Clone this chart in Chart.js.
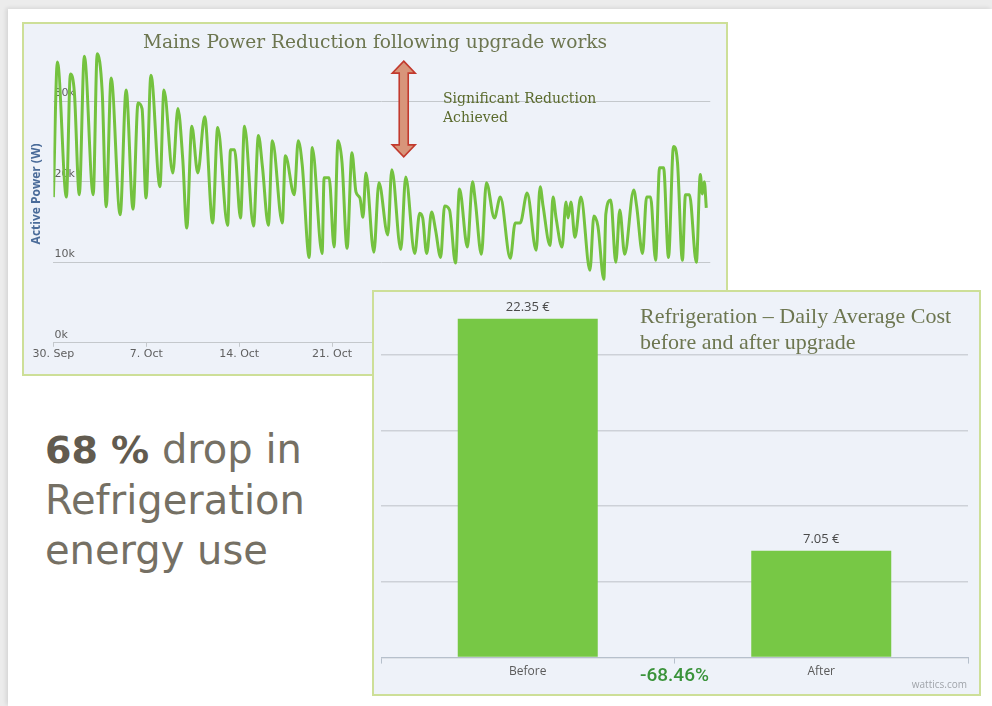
<!DOCTYPE html>
<html>
<head>
<meta charset="utf-8">
<script src="https://cdn.jsdelivr.net/npm/chart.js@4.4.1/dist/chart.umd.min.js"></script>
<style>
html, body { margin: 0; padding: 0; }
body { width: 992px; height: 706px; position: relative; overflow: hidden; background: #ececec; font-family: "Open Sans", sans-serif; }
.card { position: absolute; left: 8px; top: 9px; width: 984px; height: 697px; background: #fff; box-shadow: -2px -1px 4px rgba(0,0,0,0.10); }
.panel { position: absolute; background: #eef2f9; border: 2px solid #cddf98; box-sizing: border-box; }
#linePanel { left: 22px; top: 22px; width: 706px; height: 354px; }
#barPanel { left: 372px; top: 290px; width: 609px; height: 406px; }
canvas { position: absolute; left: 0; top: 0; }
.serif { position: absolute; white-space: nowrap; color: #6d7650; }
#lineTitle { left: 0; width: 702px; top: 7px; text-align: center; font: 18.6px "DejaVu Serif", serif; }
#note { left: 419px; top: 65px; font: 14px/19px "DejaVu Serif", serif; color: #5a6a2c; }
#barTitle { left: 266px; top: 11px; font: 22px/26px "Liberation Serif", serif; }
#drop { position: absolute; left: 266px; top: 371px; font: 500 19px Roboto, sans-serif; color: #3a933a; }
#brand { position: absolute; right: 12px; top: 385px; font: 10px "Open Sans", sans-serif; color: #a0a4aa; }
#claim { position: absolute; left: 45px; top: 424px; font: 40px/50px "DejaVu Sans", sans-serif; color: #757064; }
#claim b { color: #625b4f; font-size: 38px; }
</style>
</head>
<body>
<div class="card"></div>

<div id="claim"><b>68 %</b> drop in<br>Refrigeration<br>energy use</div>

<div class="panel" id="linePanel">
  <canvas id="lineChart" width="702" height="350"></canvas>
  <div class="serif" id="lineTitle">Mains Power Reduction following upgrade works</div>
  <div class="serif" id="note">Significant Reduction<br>Achieved</div>
</div>

<div class="panel" id="barPanel">
  <canvas id="barChart" width="605" height="402"></canvas>
  <div class="serif" id="barTitle">Refrigeration – Daily Average Cost<br>before and after upgrade</div>
  <div id="drop">-68.46%</div>
  <div id="brand">wattics.com</div>
</div>

<script>
// days since 30 Sep
const days = [
  0.00, 0.30, 0.98, 1.28, 1.58, 1.95, 2.33, 3.00, 3.30, 3.68,
  3.98, 4.35, 5.03, 5.48, 6.00, 6.38, 6.68, 6.98, 7.35, 8.03,
  8.33, 9.00, 9.38, 9.75, 10.05, 10.43, 10.88, 11.40, 12.00, 12.38,
  13.13, 13.35, 13.65, 14.10, 14.40, 15.08, 15.45, 15.75, 16.20, 16.50,
  17.25, 17.48, 18.15, 18.45, 18.75, 19.28, 19.50, 20.25, 20.40, 20.78,
  21.15, 21.45, 21.75, 22.13, 22.50, 22.80, 23.10, 23.33, 23.55, 24.15,
  24.53, 25.20, 25.50, 26.18, 26.55, 27.23, 27.60, 27.83, 28.13, 28.50,
  28.80, 29.18, 29.48, 29.85, 30.30, 30.60, 31.20, 31.58, 31.80, 32.25,
  32.63, 33.23, 33.68, 34.43, 34.80, 35.18, 35.70, 36.38, 36.68, 36.90,
  37.43, 37.65, 37.88, 38.33, 38.63, 38.78, 39.00, 39.30, 39.75, 40.43,
  40.73, 41.03, 41.48, 41.63, 42.00, 42.38, 42.68, 43.05, 43.73, 43.95,
  44.40, 44.70, 45.00, 45.38, 45.68, 45.98, 46.35, 46.73, 47.03, 47.40,
  47.63, 47.93, 48.45, 48.75, 48.90, 49.05, 49.20
];
// active power (W)
const activePower = [
  18100, 34900, 18100, 33400, 31100, 18400, 35600, 18400, 35900, 31100,
  16900, 32900, 15900, 31400, 16600, 29800, 29100, 18000, 33250, 19400,
  31400, 21100, 29100, 22750, 14250, 26900, 21100, 28100, 14900, 26750,
  14600, 24000, 24000, 15500, 26900, 14500, 25750, 21900, 14600, 25100,
  14900, 23250, 18400, 25100, 22100, 10600, 24250, 11100, 20500, 20500,
  11900, 25100, 22400, 11750, 23600, 18750, 18000, 15600, 21100, 11250,
  19900, 13400, 21500, 11600, 20600, 11100, 16100, 15500, 11100, 16250,
  14000, 10600, 17000, 16500, 9900, 19100, 11900, 20000, 17500, 11000,
  19900, 15500, 18100, 10500, 14900, 14900, 18600, 11500, 19400, 17000,
  12100, 18100, 15500, 11900, 17500, 15500, 17500, 13100, 18100, 9000,
  15750, 14500, 7900, 16000, 17750, 10000, 16500, 11000, 19000, 17000,
  11100, 18100, 18100, 10250, 21750, 21750, 10600, 24400, 22400, 10250,
  18400, 18400, 10000, 20900, 18500, 20000, 16750
];
const powerTicks = [0, 10000, 20000, 30000];
const dayTicks = [0, 7, 14, 21, 28, 35, 42, 49];
const dateTicks = ['30. Sep', '7. Oct', '14. Oct', '21. Oct', '28. Oct', '4. Nov', '11. Nov', '18. Nov'];

const periods = ['Before', 'After'];
const dailyCost = [22.35, 7.05];
const costTicks = [0, 5, 10, 15, 20];

// double arrow marking the drop, in data units
const reductionArrow = { day: 26.4, from: 35000, to: 23100 };

const arrowPlugin = {
  id: 'arrow',
  afterDatasetsDraw(chart) {
    const { ctx, scales: { x, y } } = chart;
    const cx = x.getPixelForValue(reductionArrow.day);
    const top = y.getPixelForValue(reductionArrow.from);
    const bot = y.getPixelForValue(reductionArrow.to);
    const hw = 11.5, sw = 4.5, hl = 12;
    ctx.save();
    ctx.beginPath();
    ctx.moveTo(cx, top);
    ctx.lineTo(cx + hw, top + hl);
    ctx.lineTo(cx + sw, top + hl);
    ctx.lineTo(cx + sw, bot - hl);
    ctx.lineTo(cx + hw, bot - hl);
    ctx.lineTo(cx, bot);
    ctx.lineTo(cx - hw, bot - hl);
    ctx.lineTo(cx - sw, bot - hl);
    ctx.lineTo(cx - sw, top + hl);
    ctx.lineTo(cx - hw, top + hl);
    ctx.closePath();
    ctx.fillStyle = '#d8957a';
    ctx.fill();
    ctx.lineWidth = 1.6;
    ctx.strokeStyle = '#c23a2e';
    ctx.stroke();
    ctx.restore();
  }
};

new Chart(document.getElementById('lineChart'), {
  type: 'line',
  data: {
    datasets: [{
      data: days.map((d, i) => ({ x: d, y: activePower[i] })),
      borderColor: '#74c23f',
      borderWidth: 3,
      pointRadius: 0,
      cubicInterpolationMode: 'monotone',
      fill: false
    }]
  },
  options: {
    responsive: false,
    animation: false,
    layout: { padding: { left: 1, right: 13, top: 21, bottom: 12 } },
    plugins: { legend: { display: false }, tooltip: { enabled: false } },
    scales: {
      x: {
        type: 'linear',
        min: 0,
        max: 49.5,
        afterBuildTicks: axis => { axis.ticks = dayTicks.map(v => ({ value: v })); },
        ticks: {
          autoSkip: false,
          maxRotation: 0,
          padding: 1,
          color: '#606060',
          font: { family: 'DejaVu Sans', size: 11 },
          callback: (v, i) => dateTicks[i]
        },
        grid: { drawOnChartArea: false, drawTicks: true, tickLength: 4, color: '#c4c8cc' },
        border: { color: '#c4c8cc' }
      },
      y: {
        min: 0,
        max: 37000,
        afterBuildTicks: axis => { axis.ticks = powerTicks.map(v => ({ value: v })); },
        ticks: {
          mirror: true,
          labelOffset: -8,
          padding: 1,
          color: '#606060',
          font: { family: 'DejaVu Sans', size: 11 },
          callback: v => (v / 1000) + 'k'
        },
        grid: { color: '#c4c8cc', drawTicks: false },
        border: { display: false },
        title: {
          display: true,
          text: 'Active Power (W)',
          color: '#4a6b99',
          font: { family: 'Open Sans', size: 12, weight: 'bold' },
          padding: { top: 4, bottom: 8 }
        }
      }
    }
  },
  plugins: [arrowPlugin]
});

const valueLabels = {
  id: 'valueLabels',
  afterDatasetsDraw(chart) {
    const { ctx } = chart;
    const meta = chart.getDatasetMeta(0);
    ctx.save();
    ctx.font = '13px "Open Sans"';
    ctx.fillStyle = '#4a4a4a';
    ctx.textAlign = 'center';
    ctx.textBaseline = 'bottom';
    meta.data.forEach((bar, i) => {
      ctx.fillText(dailyCost[i].toFixed(2) + ' €', bar.x, bar.y - 5);
    });
    ctx.restore();
  }
};

new Chart(document.getElementById('barChart'), {
  type: 'bar',
  data: {
    labels: periods,
    datasets: [{
      data: dailyCost,
      backgroundColor: '#77c845',
      barPercentage: 0.477,
      categoryPercentage: 1
    }]
  },
  options: {
    responsive: false,
    animation: false,
    layout: { padding: { left: 7, right: 11, top: 17, bottom: 14 } },
    plugins: { legend: { display: false }, tooltip: { enabled: false } },
    scales: {
      x: {
        ticks: { color: '#5a5a5a', padding: 1, font: { family: 'Open Sans', size: 12 } },
        grid: { drawOnChartArea: false, drawTicks: true, tickLength: 6, color: '#b6c0cc' },
        border: { color: '#b6c0cc' }
      },
      y: {
        min: 0,
        max: 23,
        afterBuildTicks: axis => { axis.ticks = costTicks.map(v => ({ value: v })); },
        ticks: { display: false },
        grid: { color: '#cdd1d8', lineWidth: 1.5, drawTicks: false },
        border: { display: false }
      }
    }
  },
  plugins: [valueLabels]
});
</script>
</body>
</html>
